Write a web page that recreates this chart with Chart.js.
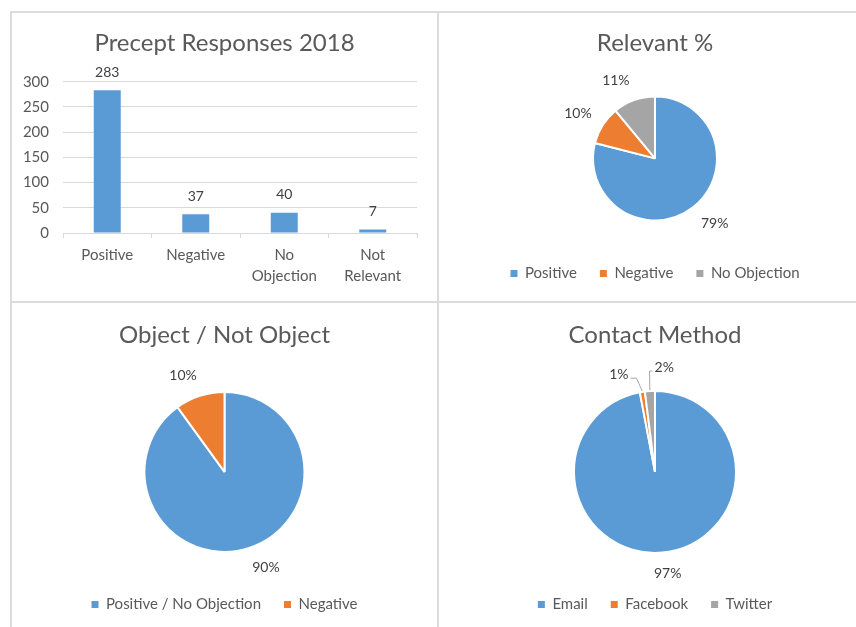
<!DOCTYPE html>
<html>
<head>
<meta charset="utf-8">
<script src="https://cdn.jsdelivr.net/npm/chart.js@4"></script>
<style>
  body { margin: 0; background: #fff; }
  #page { position: relative; width: 856px; height: 627px; overflow: hidden; background: #fff; }
  .line { position: absolute; background: #dcdcdc; }
  .panel { position: absolute; }
</style>
</head>
<body>
<div id="page">
  <div class="line" style="left:10px; top:11px; width:2px; height:616px;"></div>
  <div class="line" style="left:437px; top:11px; width:2px; height:616px;"></div>
  <div class="line" style="left:10px; top:11px; width:846px; height:2px;"></div>
  <div class="line" style="left:10px; top:301px; width:846px; height:2px;"></div>
  <div class="panel" style="left:12px; top:14px; width:425px; height:287px;"><canvas id="barChart"></canvas></div>
  <div class="panel" style="left:440px; top:14px; width:416px; height:287px;"><canvas id="relevantChart"></canvas></div>
  <div class="panel" style="left:12px; top:304px; width:425px; height:323px;"><canvas id="objectChart"></canvas></div>
  <div class="panel" style="left:440px; top:304px; width:416px; height:323px;"><canvas id="contactChart"></canvas></div>
</div>
<script>
// data
var barLabels = [['Positive'], ['Negative'], ['No', 'Objection'], ['Not', 'Relevant']];
var barValues = [283, 37, 40, 7];
var barTicks = [0, 50, 100, 150, 200, 250, 300];

var relevantLabels = ['Positive', 'Negative', 'No Objection'];
var relevantValues = [79, 10, 11];

var objectLabels = ['Positive / No Objection', 'Negative'];
var objectValues = [90, 10];

var contactLabels = ['Email', 'Facebook', 'Twitter'];
var contactValues = [97, 1, 2];

var blue = '#5b9bd5', orange = '#ed7d31', grey = '#a5a5a5';
var textGrey = '#595959';
var font = 'Lato';

Chart.defaults.font.family = font;
Chart.defaults.color = textGrey;
Chart.defaults.animation = false;
Chart.defaults.responsive = true;
Chart.defaults.maintainAspectRatio = false;

// value labels above the bars
var barValueLabels = {
  id: 'barValueLabels',
  afterDatasetsDraw: function(chart) {
    var ctx = chart.ctx;
    var meta = chart.getDatasetMeta(0);
    ctx.save();
    ctx.font = '14px ' + font;
    ctx.fillStyle = '#404040';
    ctx.textAlign = 'center';
    ctx.textBaseline = 'middle';
    meta.data.forEach(function(bar, i) {
      ctx.fillText(chart.data.datasets[0].data[i], bar.x, bar.y - 18);
    });
    ctx.restore();
  }
};

// percent labels outside the pie (box edge kept a fixed gap from the rim),
// thin slices get spread apart and a leader line
var pieLabels = {
  id: 'pieLabels',
  afterDatasetsDraw: function(chart) {
    var ctx = chart.ctx;
    var meta = chart.getDatasetMeta(0);
    var data = chart.data.datasets[0].data;
    var total = data.reduce(function(a, b) { return a + b; }, 0);
    ctx.save();
    ctx.font = '14px ' + font;
    var items = [];
    meta.data.forEach(function(arc, i) {
      var mid = (arc.startAngle + arc.endAngle) / 2;
      var cx = Math.cos(mid), cy = Math.sin(mid);
      var d = arc.outerRadius + 13;
      var text = Math.round(data[i] / total * 100) + '%';
      var w = ctx.measureText(text).width;
      var kx = Math.max(-1, Math.min(1, cx * 3));
      items.push({
        x: arc.x + cx * d + kx * w / 2,
        y: arc.y + cy * d + cy * 8,
        w: w,
        text: text, arc: arc, mid: mid,
        small: data[i] / total < 0.03
      });
    });
    for (var i = 1; i < items.length; i++) {
      var a = items[i - 1], b = items[i];
      var need = (a.w + b.w) / 2 + 26;
      if (Math.abs(b.x - a.x) < need && Math.abs(b.y - a.y) < 16) {
        var push = (need - Math.abs(b.x - a.x)) / 2;
        a.x -= push; b.x += push;
        a.y += 3; b.y -= 3;
      }
    }
    items.forEach(function(it) {
      if (it.small) {
        var px = it.arc.x + Math.cos(it.mid) * (it.arc.outerRadius + 1);
        var py = it.arc.y + Math.sin(it.mid) * (it.arc.outerRadius + 1);
        var left = it.x < px;
        var sx = left ? it.x + it.w / 2 + 2 : it.x - it.w / 2 - 2;
        ctx.strokeStyle = '#a6a6a6';
        ctx.lineWidth = 1;
        ctx.beginPath();
        ctx.moveTo(sx, it.y + 4);
        ctx.lineTo(sx + (left ? 6 : -3), it.y + 4);
        ctx.lineTo(px, py);
        ctx.stroke();
      }
      ctx.fillStyle = '#404040';
      ctx.textAlign = 'center';
      ctx.textBaseline = 'middle';
      ctx.fillText(it.text, it.x, it.y);
    });
    ctx.restore();
  }
};

function legendItems(chart) {
  var items = Chart.overrides.pie.plugins.legend.labels.generateLabels(chart);
  return items.map(function(item) {
    item.lineWidth = 0;
    item.strokeStyle = item.fillStyle;
    return item;
  });
}

function pieOptions(title, pad, titlePad) {
  return {
    layout: { padding: pad },
    plugins: {
      title: {
        display: true, text: title, color: textGrey,
        font: { size: 24, weight: 'normal', family: font },
        padding: titlePad
      },
      legend: {
        position: 'bottom',
        labels: {
          boxWidth: 7, boxHeight: 7, padding: 23, color: textGrey,
          font: { size: 15, family: font },
          generateLabels: legendItems
        }
      },
      tooltip: { enabled: false }
    }
  };
}

function makePie(id, labels, values, colors, title, radius, pad, titlePad) {
  var ctx = document.getElementById(id).getContext('2d');
  return new Chart(ctx, {
    type: 'pie',
    data: {
      labels: labels,
      datasets: [{
        data: values,
        backgroundColor: colors,
        borderColor: '#ffffff',
        borderWidth: 2,
        radius: radius
      }]
    },
    options: pieOptions(title, pad, titlePad),
    plugins: [pieLabels]
  });
}

// bar chart
var barCtx = document.getElementById('barChart').getContext('2d');
var barChart = new Chart(barCtx, {
  type: 'bar',
  data: {
    labels: barLabels,
    datasets: [{
      label: 'Responses',
      data: barValues,
      backgroundColor: blue,
      barPercentage: 0.305,
      categoryPercentage: 1
    }]
  },
  options: {
    layout: { padding: { left: 0, right: 0, bottom: 14 } },
    plugins: {
      legend: { display: false },
      tooltip: { enabled: false },
      title: {
        display: true, text: 'Precept Responses 2018', color: textGrey,
        font: { size: 24, weight: 'normal', family: font },
        padding: { top: 15, bottom: 24 }
      }
    },
    scales: {
      x: {
        grid: { drawOnChartArea: false, drawTicks: true, tickLength: 5, color: '#d9d9d9' },
        border: { display: true, color: '#d9d9d9' },
        ticks: { color: textGrey, padding: 7, font: { size: 15, lineHeight: 1.4 }, maxRotation: 0 },
        afterFit: function(scale) { scale.height = 54; }
      },
      y: {
        min: 0, max: 300,
        afterBuildTicks: function(scale) {
          scale.ticks = barTicks.map(function(v) { return { value: v }; });
        },
        grid: { color: '#d9d9d9', drawTicks: false },
        border: { display: false },
        ticks: { color: textGrey, padding: 14, font: { size: 15 } },
        afterFit: function(scale) { scale.width = 51; }
      },
      // empty strip on the right so the plot ends where the reference's does
      // while the title stays centred on the whole panel
      rightGap: {
        position: 'right',
        grid: { display: false },
        border: { display: false },
        ticks: { display: false },
        afterFit: function(scale) { scale.width = 20; }
      }
    }
  },
  plugins: [barValueLabels]
});

makePie('relevantChart', relevantLabels, relevantValues, [blue, orange, grey],
  'Relevant %', 62, { left: 14, bottom: 10 }, { top: 15, bottom: 16 });
makePie('objectChart', objectLabels, objectValues, [blue, orange],
  'Object / Not Object', 80, { left: 0, bottom: 5 }, { top: 17, bottom: 20 });
makePie('contactChart', contactLabels, contactValues, [blue, orange, grey],
  'Contact Method', 81, { left: 14, bottom: 5 }, { top: 17, bottom: 20 });
</script>
</body>
</html>
